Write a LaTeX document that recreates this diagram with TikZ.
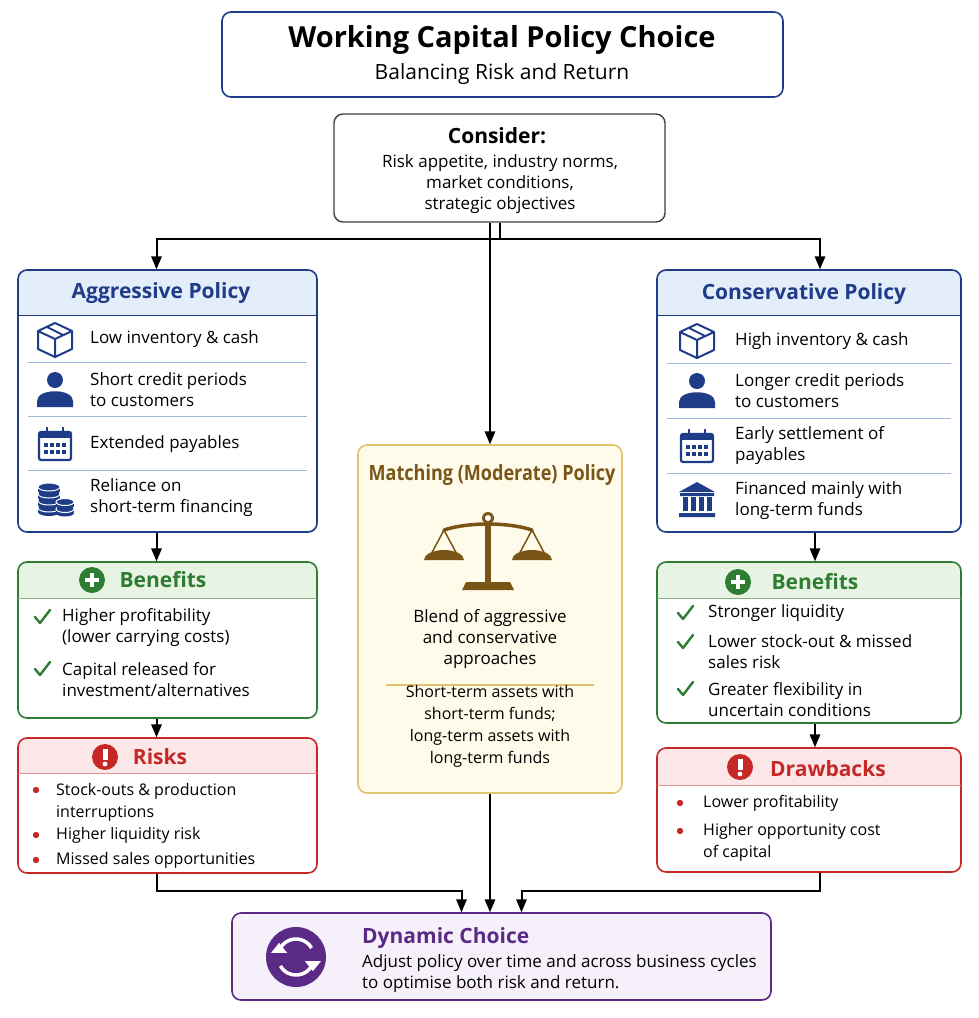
\documentclass[tikz,border=0pt]{standalone}
\usepackage{fontspec}
\setmainfont{Open Sans}
\usetikzlibrary{arrows,positioning}
\definecolor{navy}{HTML}{1F3C88}
\definecolor{hdrblue}{HTML}{E3EEFA}
\definecolor{sepblue}{HTML}{9DB8DD}
\definecolor{grn}{HTML}{2E7D32}
\definecolor{hdrgrn}{HTML}{E8F4E3}
\definecolor{rd}{HTML}{C62828}
\definecolor{hdrrd}{HTML}{FBE7E7}
\definecolor{purp}{HTML}{5B2A86}
\definecolor{lav}{HTML}{F5F0FA}
\definecolor{gold}{HTML}{E2C46F}
\definecolor{cream}{HTML}{FFFBEA}
\definecolor{brn}{HTML}{7A5518}
\newcommand{\bodyfont}{\fontsize{17}{21}\selectfont}
\newcommand{\smallbody}{\fontsize{16}{22}\selectfont}
\newcommand{\hdrfont}{\fontsize{21}{25}\selectfont\bfseries}

\tikzset{box/.style={draw,rounded corners=9pt,line width=1.6pt,inner sep=0pt},
txt/.style={anchor=west,align=left,font=\bodyfont,inner sep=0pt},
ctxt/.style={align=center,font=\bodyfont,inner sep=0pt},
sep/.style={sepblue,line width=0.8pt},
flow/.style={-triangle 45,line width=2pt,black},
pics/crate/.style={code={\draw[navy,line width=2pt,line join=round] (-17,-8)--(0,-16)--(17,-8)--(17,10)--(0,18)--(-17,10)--cycle (-17,-8)--(0,0)--(17,-8) (0,0)--(0,18) (-8,-12)--(8,-4);}},
pics/person/.style={code={\fill[navy] (0,-9) circle (8); \fill[navy] (-18,18) -- (-18,12) .. controls (-18,-1) and (18,-1) .. (18,12) -- (18,18) -- cycle;}},
pics/calendar/.style={code={\draw[navy,line width=2.2pt,rounded corners=2pt] (-16,-12) rectangle (16,16); \fill[navy] (-16,-12) rectangle (16,-6);
  \draw[navy,line width=2.2pt] (-8,-17)--(-8,-9) (8,-17)--(8,-9);
  \foreach \i in {-9,-3,3,9} \foreach \j in {1,8} \fill[navy] (\i-2,\j-2) rectangle (\i+2,\j+2);}},
pics/coins/.style={code={\foreach \k in {11,4,-3,-10} {\fill[navy] (-6,\k+4) ellipse (11 and 4); \fill[navy] (-17,\k) rectangle (5,\k+4); \fill[navy,draw=white,line width=1pt] (-6,\k) ellipse (11 and 4);}
  \foreach \k in {12,5} {\fill[navy] (10,\k+4) ellipse (9 and 3.5); \fill[navy] (1,\k) rectangle (19,\k+4); \fill[navy,draw=white,line width=1pt] (10,\k) ellipse (9 and 3.5);}}},
pics/bank/.style={code={\fill[navy] (-18,-8)--(0,-18)--(18,-8)--cycle; \fill[navy] (-17,-7) rectangle (17,-4) (-18,13) rectangle (18,17);
  \foreach \i in {-12,-4,4,12} \fill[navy] (\i-2.5,-3) rectangle (\i+2.5,11);}},
pics/tick/.style={code={\draw[grn,line width=2.4pt,line cap=round,line join=round] (-7,0)--(-2,6)--(8,-7);}},
pics/plus/.style={code={\fill[grn] (0,0) circle (13); \draw[white,line width=3.5pt] (-7,0)--(7,0) (0,-7)--(0,7);}},
pics/warn/.style={code={\fill[rd] (0,0) circle (13); \fill[white] (-2.5,-8) rectangle (2.5,3); \fill[white] (0,7) circle (2.4);}},
pics/dot/.style={code={\fill[rd] (0,0) circle (3.2);}}}

\begin{document}
\begin{tikzpicture}[x=1pt,y=-1pt]
\useasboundingbox[fill=white] (0,0) rectangle (979,1018);

% Title
\node[box,draw=navy,fill=white,minimum width=561pt,minimum height=85pt] (title) at (502.5,54.5) {};
\node[font=\fontsize{29}{34}\selectfont\bfseries,inner sep=0pt] (titletxt) at (502,40) {Working Capital Policy Choice};
\node[font=\fontsize{21}{25}\selectfont,inner sep=0pt] (subtxt) at (502,74) {Balancing Risk and Return};

% Consider
\node[box,draw=black!75,line width=1.4pt,fill=white,minimum width=331pt,minimum height=108pt] (consider) at (499.5,168) {};
\node[font=\hdrfont,inner sep=0pt] (constitle) at (497,136) {Consider:};
\node[ctxt] (constxt) at (500,184) {Risk appetite, industry norms,\\market conditions,\\strategic objectives};

% Aggressive policy
\fill[hdrblue] (18,315) [rounded corners=9pt] -- (18,270) -- (317,270) [sharp corners] -- (317,315) -- cycle;
\node[box,draw=navy,minimum width=299pt,minimum height=262pt] (aggr) at (167.5,401) {};
\draw[navy,line width=1pt] (18,315) -- (317,315);
\node[font=\hdrfont,text=navy,inner sep=0pt] (aggrtitle) at (161,293) {Aggressive Policy};
\pic at (55,339) {crate}; \node[txt] (aggr1) at (90,339) {Low inventory \& cash};
\draw[sep] (28,362) -- (307,362);
\pic at (55,389) {person}; \node[txt] (aggr2) at (90,390) {Short credit periods\\to customers};
\draw[sep] (28,416) -- (307,416);
\pic at (55,444) {calendar}; \node[txt] (aggr3) at (90,444) {Extended payables};
\draw[sep] (28,470) -- (307,470);
\pic at (55,497) {coins}; \node[txt] (aggr4) at (90,498) {Reliance on\\short-term financing};

% Conservative policy
\fill[hdrblue] (657,315) [rounded corners=9pt] -- (657,270) -- (961,270) [sharp corners] -- (961,315) -- cycle;
\node[box,draw=navy,minimum width=304pt,minimum height=262pt] (cons) at (809,401) {};
\draw[navy,line width=1pt] (657,315) -- (961,315);
\node[font=\hdrfont,text=navy,inner sep=0pt] (constitle2) at (804,294) {Conservative Policy};
\pic at (697,340) {crate}; \node[txt] (cons1) at (735,341) {High inventory \& cash};
\draw[sep] (667,363) -- (951,363);
\pic at (697,390) {person}; \node[txt] (cons2) at (735,391) {Longer credit periods\\to customers};
\draw[sep] (667,418) -- (951,418);
\pic at (697,446) {calendar}; \node[txt] (cons3) at (735,446) {Early settlement of\\payables};
\draw[sep] (667,473) -- (951,473);
\pic at (697,500) {bank}; \node[txt] (cons4) at (735,501) {Financed mainly with\\long-term funds};

% Matching policy
\node[box,draw=gold,fill=cream,minimum width=264pt,minimum height=348pt] (mid) at (490,619) {};
\node[font=\fontsize{21}{25}\selectfont\bfseries,text=brn,inner sep=0pt,xscale=0.86] (midtitle) at (492,475) {Matching (Moderate) Policy};
\begin{scope}[brn,shift={(488,550)}]
\fill (-3,-30) rectangle (3,34); \fill (0,-32) circle (6); \fill[white] (0,-32) circle (3);
\fill (-22,32) -- (22,32) -- (26,40) -- (-26,40) -- cycle;
\draw[line width=3.5pt,line cap=round] (-44,-20) .. controls (-20,-28) and (20,-28) .. (44,-20);
\draw[line width=1.5pt] (-44,-20) -- (-60,10) (-44,-20) -- (-28,10) (44,-20) -- (28,10) (44,-20) -- (60,10);
\fill (-64,10) arc (180:360:20 and 10) -- cycle; \fill (24,10) arc (180:360:20 and 10) -- cycle;
\end{scope}
\node[ctxt] (mid1) at (490,639) {Blend of aggressive\\and conservative\\approaches};
\draw[gold,line width=1.2pt] (386,685) -- (594,685);
\node[ctxt,font=\smallbody] (mid2) at (490,726) {Short-term assets with\\short-term funds;\\long-term assets with\\long-term funds};

% Aggressive benefits
\fill[hdrgrn] (18,598) [rounded corners=9pt] -- (18,562) -- (317,562) [sharp corners] -- (317,598) -- cycle;
\node[box,draw=grn,minimum width=299pt,minimum height=156pt] (aggben) at (167.5,640) {};
\draw[grn!60,line width=0.8pt] (18,598) -- (317,598);
\pic at (92,580) {plus}; \node[font=\hdrfont,text=grn,inner sep=0pt] (aggbentitle) at (163,580) {Benefits};
\pic at (42,617) {tick}; \node[txt] (aggben1) at (62,628) {Higher profitability\\(lower carrying costs)};
\pic at (42,669) {tick}; \node[txt] (aggben2) at (62,680) {Capital released for\\investment/alternatives};

% Aggressive risks
\fill[hdrrd] (18,773) [rounded corners=9pt] -- (18,738) -- (317,738) [sharp corners] -- (317,773) -- cycle;
\node[box,draw=rd,minimum width=299pt,minimum height=135pt] (aggrisk) at (167.5,805.5) {};
\draw[rd!50,line width=0.8pt] (18,773) -- (317,773);
\pic at (105,757) {warn}; \node[font=\hdrfont,text=rd,inner sep=0pt] (aggrisktitle) at (160,757) {Risks};
\pic at (36,790) {dot}; \node[txt,font=\smallbody,text depth=0pt] (aggrisk1) at (56,800) {Stock-outs \& production\\interruptions};
\pic at (36,835) {dot}; \node[txt,font=\smallbody] (aggrisk2) at (56,835) {Higher liquidity risk};
\pic at (36,860) {dot}; \node[txt,font=\smallbody] (aggrisk3) at (56,860) {Missed sales opportunities};

% Conservative benefits
\fill[hdrgrn] (657,598) [rounded corners=9pt] -- (657,562) -- (961,562) [sharp corners] -- (961,598) -- cycle;
\node[box,draw=grn,minimum width=304pt,minimum height=161pt] (consben) at (809,642.5) {};
\draw[grn!60,line width=0.8pt] (657,598) -- (961,598);
\pic at (738,582) {plus}; \node[font=\hdrfont,text=grn,inner sep=0pt] (consbentitle) at (815,582) {Benefits};
\pic at (685,613) {tick}; \node[txt] (consben1) at (708,613) {Stronger liquidity};
\pic at (685,642) {tick}; \node[txt] (consben2) at (708,652) {Lower stock-out \& missed\\sales risk};
\pic at (685,689) {tick}; \node[txt] (consben3) at (708,700) {Greater flexibility in\\uncertain conditions};

% Conservative drawbacks
\fill[hdrrd] (657,785) [rounded corners=9pt] -- (657,748) -- (961,748) [sharp corners] -- (961,785) -- cycle;
\node[box,draw=rd,minimum width=304pt,minimum height=124pt] (consdraw) at (809,810) {};
\draw[rd!50,line width=0.8pt] (657,785) -- (961,785);
\pic at (740,767) {warn}; \node[font=\hdrfont,text=rd,inner sep=0pt,anchor=west] (consdrawtitle) at (770,769) {Drawbacks};
\pic at (680,803) {dot}; \node[txt,font=\smallbody] (consdraw1) at (703,803) {Lower profitability};
\pic at (680,831) {dot}; \node[txt,font=\smallbody] (consdraw2) at (703,842) {Higher opportunity cost\\of capital};

% Dynamic choice
\node[box,draw=purp,fill=lav,minimum width=539pt,minimum height=87pt] (dyn) at (501.5,956.5) {};
\fill[purp] (296,957) circle (30);
\draw[white,line width=3.5pt] (296,957) ++(150:18) arc (150:20:18);
\draw[white,line width=3.5pt] (296,957) ++(330:18) arc (330:200:18);
\fill[white] (296,957) ++(20:18) ++(-8,-2) -- ++(16,0) -- ++(-8,10) -- cycle;
\fill[white] (296,957) ++(200:18) ++(8,2) -- ++(-16,0) -- ++(8,-10) -- cycle;
\node[font=\hdrfont,text=purp,anchor=west,inner sep=0pt] (dyntitle) at (362,938) {Dynamic Choice};
\node[txt] (dyntxt) at (362,974) {Adjust policy over time and across business cycles\\to optimise both risk and return.};

% Connectors
\draw[flow] (consider.south) -- ++(0,16) -| ([xshift=-11pt]aggr.north);
\draw[flow] (consider.south) -- ++(0,16) -| ([xshift=11pt]cons.north);
\draw[flow] (consider.south -| mid.north) -- (mid.north);
\draw[flow] ([xshift=-11pt]aggr.south) -- ([xshift=-11pt]aggben.north);
\draw[flow] ([xshift=-11pt]aggben.south) -- ([xshift=-11pt]aggrisk.north);
\draw[flow] ([xshift=6pt]cons.south) -- ([xshift=6pt]consben.north);
\draw[flow] ([xshift=6pt]consben.south) -- ([xshift=6pt]consdraw.north);
\draw[flow] ([xshift=-11pt]aggrisk.south) -- ++(0,17) -| ([xshift=-40pt]dyn.north);
\draw[flow] (mid.south) -- (mid.south |- dyn.north);
\draw[flow] ([xshift=11pt]consdraw.south) -- ++(0,18) -| ([xshift=20pt]dyn.north);
\end{tikzpicture}
\end{document}
